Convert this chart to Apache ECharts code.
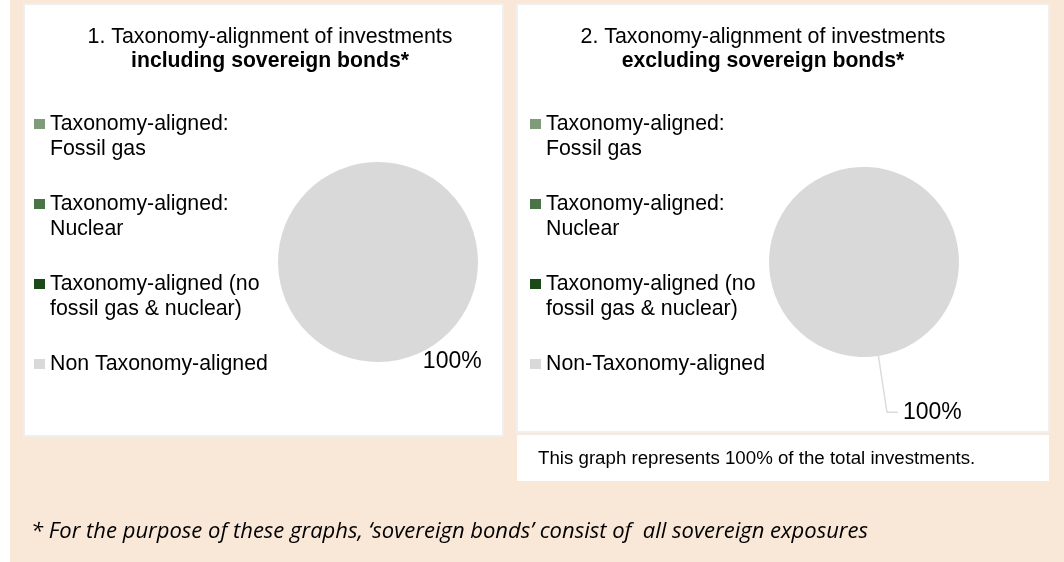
<!DOCTYPE html>
<html>
<head>
<meta charset="utf-8">
<script src="https://cdn.jsdelivr.net/npm/echarts@6/dist/echarts.min.js"></script>
<style>
html, body { margin: 0; padding: 0; background: #fff; }
#chart { width: 1064px; height: 562px; }
</style>
</head>
<body>
<div id="chart"></div>
<script>
var chartDom = document.getElementById('chart');
var myChart = echarts.init(chartDom);
var option;

// categories (left chart / right chart)
var names1 = ['Taxonomy-aligned:\nFossil gas', 'Taxonomy-aligned:\nNuclear',
              'Taxonomy-aligned (no\nfossil gas & nuclear)', 'Non Taxonomy-aligned'];
var names2 = ['Taxonomy-aligned:\nFossil gas', 'Taxonomy-aligned:\nNuclear',
              'Taxonomy-aligned (no\nfossil gas & nuclear)', 'Non-Taxonomy-aligned'];
var colors = ['#7f9b7a', '#4a7346', '#1b4a18', '#d9d9d9'];

// share of investments in %
var values1 = [0, 0, 0, 100];
var values2 = [0, 0, 0, 100];

var titles = ['1. Taxonomy-alignment of investments', '2. Taxonomy-alignment of investments'];
var subtitles = ['including sovereign bonds*', 'excluding sovereign bonds*'];
var noteText = 'This graph represents 100% of the total investments.';
var footText = '* For the purpose of these graphs, \u2018sovereign bonds\u2019 consist of  all sovereign exposures';

var FONT = "'Liberation Sans', Arial, sans-serif";

function pieData(names, values) {
  var out = [];
  for (var i = 0; i < names.length; i++) {
    var item = {
      name: names[i],
      value: values[i],
      itemStyle: { color: colors[i] }
    };
    // no label for empty slices
    if (values[i] == 0) {
      item.label = { show: false };
      item.labelLine = { show: false };
    }
    out.push(item);
  }
  return out;
}

// legend text: empty line on top so the square sits next to the first line
function legendText(name) {
  if (name.indexOf('\n') != -1) return '\n' + name;
  return '\n' + name + '\n';
}

function legendOpt(names, left) {
  return {
    data: names,
    orient: 'vertical',
    left: left,
    top: 86.5,
    padding: 0,
    itemGap: 5,
    itemWidth: 11,
    itemHeight: 10,
    icon: 'rect',
    selectedMode: false,
    formatter: legendText,
    textStyle: {
      fontFamily: FONT,
      fontSize: 21.3,
      lineHeight: 25,
      color: '#000'
    }
  };
}

function titleOpt(i, left) {
  return {
    text: titles[i] + '\n{b|' + subtitles[i] + '}',
    left: left,
    top: 25,
    padding: 0,
    textAlign: 'center',
    textStyle: {
      fontFamily: FONT,
      fontSize: 21.4,
      fontWeight: 'normal',
      lineHeight: 24,
      color: '#000',
      rich: {
        b: { fontFamily: FONT, fontSize: 21.2, fontWeight: 'bold', lineHeight: 24, color: '#000' }
      }
    }
  };
}

function pieLabel() {
  return {
    position: 'outside',
    formatter: '{d}%',
    fontFamily: FONT,
    fontSize: 23,
    color: '#000',
    distanceToLabelLine: 5
  };
}

option = {
  animation: false,
  backgroundColor: '#fff',
  graphic: {
    elements: [
      { type: 'rect', z: -10, shape: { x: 10, y: 0, width: 1054, height: 562 }, style: { fill: '#f9e7d7' } },
      { type: 'rect', z: -9, shape: { x: 24, y: 4, width: 479, height: 432 }, style: { fill: '#fff', stroke: '#efefef', lineWidth: 2 } },
      { type: 'rect', z: -9, shape: { x: 517, y: 4, width: 532, height: 428 }, style: { fill: '#fff', stroke: '#efefef', lineWidth: 2 } },
      { type: 'rect', z: -9, shape: { x: 517, y: 435, width: 532, height: 46 }, style: { fill: '#fff' } },
      { type: 'text', z: 10, x: 538, y: 459,
        style: { text: noteText, fontFamily: FONT, fontSize: 18.7, fill: '#000', verticalAlign: 'middle' } },
      { type: 'text', z: 10, x: 31, y: 532,
        style: { text: footText, fontFamily: "'Open Sans', sans-serif", fontStyle: 'italic', fontSize: 22, fill: '#000', verticalAlign: 'middle' } }
    ]
  },
  title: [titleOpt(0, 270), titleOpt(1, 763)],
  legend: [legendOpt(names1, 34), legendOpt(names2, 530)],
  series: [
    {
      type: 'pie',
      center: [378, 262],
      radius: 100,
      startAngle: 90.5,
      avoidLabelOverlap: false,
      emphasis: { disabled: true },
      itemStyle: { borderWidth: 0 },
      label: pieLabel(),
      labelLine: { length: 0, length2: 39, show: false },
      data: pieData(names1, values1)
    },
    {
      type: 'pie',
      center: [864, 262],
      radius: 95,
      startAngle: 98.7,
      avoidLabelOverlap: false,
      emphasis: { disabled: true },
      itemStyle: { borderWidth: 0 },
      label: pieLabel(),
      labelLine: {
        show: true,
        length: 57,
        length2: 11,
        lineStyle: { color: '#dcdcdc', width: 1.5 }
      },
      data: pieData(names2, values2)
    }
  ]
};

option && myChart.setOption(option);
</script>
</body>
</html>
